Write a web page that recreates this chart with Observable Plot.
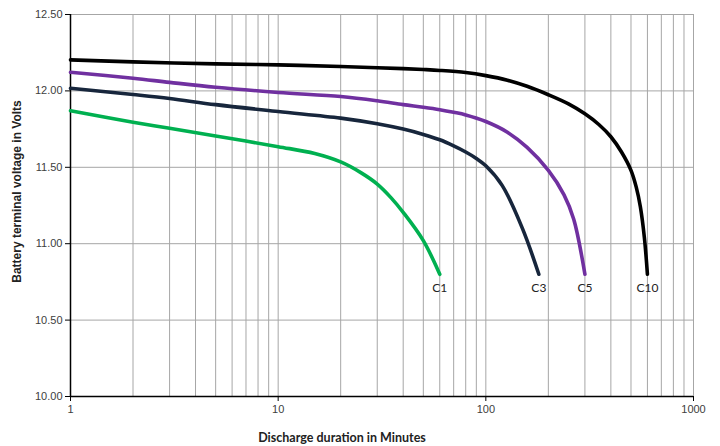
<!DOCTYPE html>
<html>
<head>
<meta charset="utf-8">
<script src="https://cdn.jsdelivr.net/npm/d3@7"></script>
<script src="https://cdn.jsdelivr.net/npm/@observablehq/plot@0.6"></script>
<style>
  html, body { margin: 0; padding: 0; background: #fff; }
  #chart { width: 720px; height: 446px; }
</style>
</head>
<body>
<div id="chart"></div>
<script>
// Discharge duration (minutes) and terminal voltage (V) per discharge rate
const c1Minutes  = [1, 2, 3, 5, 10, 15, 20, 25, 30, 35, 40, 50, 60];
const c1Volts    = [11.87, 11.795, 11.755, 11.705, 11.635, 11.59, 11.535, 11.465, 11.39, 11.30, 11.205, 11.02, 10.80];

const c3Minutes  = [1, 2, 3, 5, 10, 20, 30, 40, 50, 60, 70, 80, 90, 100, 120, 150, 180];
const c3Volts    = [12.017, 11.976, 11.95, 11.91, 11.865, 11.822, 11.785, 11.75, 11.715, 11.68, 11.64, 11.60, 11.558, 11.51, 11.38, 11.10, 10.80];

const c5Minutes  = [1, 2, 3, 5, 10, 20, 30, 40, 50, 60, 70, 80, 100, 127, 158, 200, 238, 265, 300];
const c5Volts    = [12.122, 12.083, 12.056, 12.024, 11.99, 11.963, 11.935, 11.91, 11.893, 11.877, 11.86, 11.843, 11.80, 11.73, 11.63, 11.48, 11.32, 11.16, 10.80];

const c10Minutes = [1, 2, 5, 10, 20, 30, 40, 50, 60, 80, 100, 127, 158, 200, 250, 300, 350, 400, 450, 500, 530, 555, 580, 600];
const c10Volts   = [12.203, 12.19, 12.177, 12.17, 12.16, 12.152, 12.146, 12.14, 12.134, 12.12, 12.10, 12.07, 12.03, 11.975, 11.915, 11.85, 11.78, 11.70, 11.60, 11.48, 11.37, 11.24, 11.04, 10.80];

const seriesNames  = ["C1", "C3", "C5", "C10"];
const seriesColors = ["#00b050", "#17263c", "#7030a0", "#000000"];

const xTicks     = [1, 10, 100, 1000];
const yTicks     = [10.0, 10.5, 11.0, 11.5, 12.0, 12.5];
const xGridTicks = [2, 3, 4, 5, 6, 7, 8, 9, 10, 20, 30, 40, 50, 60, 70, 80, 90, 100, 200, 300, 400, 500, 600, 700, 800, 900, 1000];
const yGridTicks = [10.5, 11.0, 11.5, 12.0, 12.5];

const xTitle = "Discharge duration in Minutes";
const yTitle = "Battery terminal voltage in Volts";

const mins  = [c1Minutes, c3Minutes, c5Minutes, c10Minutes];
const volts = [c1Volts, c3Volts, c5Volts, c10Volts];
const rows = [];
seriesNames.forEach((name, i) => {
  mins[i].forEach((m, j) => rows.push({series: name, minutes: m, volts: volts[i][j]}));
});
const ends = seriesNames.map((name, i) => ({
  series: name,
  minutes: mins[i][mins[i].length - 1],
  volts: volts[i][volts[i].length - 1]
}));

const chart = Plot.plot({
  width: 720,
  height: 446,
  marginLeft: 70,
  marginRight: 27,
  marginTop: 14,
  marginBottom: 50,
  style: {fontFamily: "Liberation Sans, Arial, sans-serif", fontSize: "11px", color: "#404040", background: "#fff"},
  x: {type: "log", domain: [1, 1000]},
  y: {domain: [10, 12.5]},
  color: {domain: seriesNames, range: seriesColors},
  marks: [
    Plot.gridX(xGridTicks, {stroke: "#a6a6a6", strokeOpacity: 1}),
    Plot.gridY(yGridTicks, {stroke: "#a6a6a6", strokeOpacity: 1}),
    Plot.axisX(xTicks, {tickFormat: d3.format("d"), tickSize: 5, tickPadding: 4, label: null, stroke: "#000", fill: "#404040", fontSize: 11}),
    Plot.axisY(yTicks, {tickFormat: d3.format(".2f"), tickSize: 5, tickPadding: 3, label: null, stroke: "#000", fill: "#404040", fontSize: 11}),
    Plot.ruleX([1], {stroke: "#000", strokeWidth: 1.5}),
    Plot.ruleY([10], {stroke: "#000", strokeWidth: 1.5}),
    Plot.line(rows, {x: "minutes", y: "volts", z: "series", stroke: "series", strokeWidth: 3.6, curve: "catmull-rom"}),
    Plot.text(ends, {x: "minutes", y: "volts", text: "series", dy: 14, fill: "#222", fontSize: 12, fontFamily: "Lato, Liberation Sans, sans-serif"}),
    Plot.text([yTitle], {frameAnchor: "left", textAnchor: "middle", lineAnchor: "middle", text: d => d, rotate: -90, dx: -53, dy: -14, fontWeight: "bold", fontSize: 12, fill: "#222", fontFamily: "Liberation Sans, Arial, sans-serif"}),
    Plot.text([xTitle], {frameAnchor: "bottom", textAnchor: "middle", lineAnchor: "middle", text: d => d, dx: -40, dy: 41, fontWeight: "bold", fontSize: 12.5, fill: "#222", fontFamily: "Lato, sans-serif"})
  ]
});
document.getElementById("chart").appendChild(chart);
</script>
</body>
</html>
